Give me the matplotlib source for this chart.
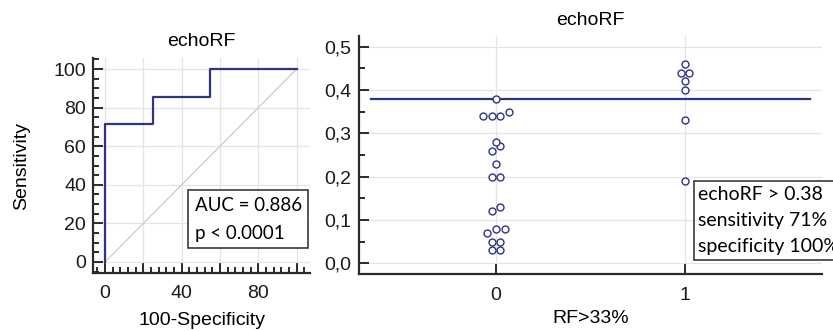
"""
echoRF: ROC curve (left) and dot plot by RF>33% group with cut-off (right).
"""

import numpy as np
import matplotlib.pyplot as plt
from matplotlib.ticker import MultipleLocator, FuncFormatter

# ROC curve, in %
fpr = [0, 0, 25, 25, 55, 55, 100]
tpr = [0, 71.4, 71.4, 85.7, 85.7, 100, 100]
auc_text = 'AUC = 0.886\np < 0.0001'

# echoRF values per group (RF>33% = 0 / 1)
echo_neg = [0.03, 0.03, 0.05, 0.05, 0.07, 0.08, 0.08, 0.12, 0.13, 0.20,
            0.20, 0.23, 0.26, 0.27, 0.28, 0.34, 0.34, 0.34, 0.35, 0.38]
echo_pos = [0.19, 0.33, 0.40, 0.42, 0.44, 0.44, 0.46]
group_ticks = [0, 1]
cutoff = 0.38
cut_text = 'echoRF > 0.38\nsensitivity 71%\nspecificity 100%'

NAVY = '#2f3388'
DARK = '#2a2a2a'
GRID = '#e4e4e4'

plt.rcParams['font.family'] = ['Liberation Sans', 'DejaVu Sans']
plt.rcParams['font.size'] = 14


def swarm(vals, row_gap=0.015, step=0.046):
    # values closer than row_gap share a row; each row is centred on the group
    vals = sorted(vals)
    rows, cur = [], [vals[0]]
    for v in vals[1:]:
        if v - cur[0] < row_gap:
            cur.append(v)
        else:
            rows.append(cur)
            cur = [v]
    rows.append(cur)
    xs, ys = [], []
    for r in rows:
        n = len(r)
        for i, v in enumerate(r):
            xs.append((i - (n - 1) / 2) * step)
            ys.append(v)
    return np.array(xs), np.array(ys)


def style_axes(ax):
    for s in ('top', 'right'):
        ax.spines[s].set_visible(False)
    for s in ('left', 'bottom'):
        ax.spines[s].set_linewidth(1.6)
        ax.spines[s].set_color(DARK)
    ax.tick_params(which='both', direction='in', color=DARK, width=1.4,
                   labelcolor='#1a1a1a', labelsize=14)
    ax.tick_params(which='major', length=7.5)
    ax.tick_params(which='minor', length=4)
    ax.grid(True, which='major', color=GRID, lw=0.9)
    ax.set_axisbelow(True)


fig = plt.figure(figsize=(8.33, 3.31), dpi=100)

# -----------------------------------------------------------------------
# ROC curve
# -----------------------------------------------------------------------
ax1 = fig.add_axes([93 / 833, 58 / 331, 217 / 833, 215 / 331])
style_axes(ax1)
ax1.plot([0, 100], [0, 100], color='#cbc3c6', lw=0.8)
ax1.plot(fpr, tpr, color=NAVY, lw=1.6)
ax1.set_xlim(-6.3, 107)
ax1.set_ylim(-5.7, 105.7)
ax1.xaxis.set_major_locator(MultipleLocator(20))
ax1.xaxis.set_minor_locator(MultipleLocator(4))
ax1.yaxis.set_major_locator(MultipleLocator(20))
ax1.yaxis.set_minor_locator(MultipleLocator(5))
ax1.xaxis.set_major_formatter(FuncFormatter(
    lambda v, p: f'{v:.0f}' if round(v) % 40 == 0 else ''))
ax1.tick_params(axis='x', pad=9)
ax1.tick_params(axis='y', pad=5)
ax1.set_xlabel('100-Specificity', labelpad=7)
ax1.set_ylabel('Sensitivity', labelpad=17)
ax1.set_title('echoRF', fontsize=14, pad=9)
ax1.text(0.468, 0.355, auc_text, transform=ax1.transAxes, ha='left', va='top',
         family='Lato', fontsize=13.5, linespacing=1.8,
         bbox=dict(boxstyle='square,pad=0.35', fc='white', ec=DARK, lw=1.1))

# -----------------------------------------------------------------------
# Dot plot
# -----------------------------------------------------------------------
ax2 = fig.add_axes([359.4 / 833, 57 / 331, 462.6 / 833, 238 / 331])
style_axes(ax2)
for g, vals in zip(group_ticks, [echo_neg, echo_pos]):
    dx, ys = swarm(vals)
    ax2.plot(g + dx, ys, 'o', ms=5, mfc='white', mec=NAVY, mew=1.0,
             linestyle='none', zorder=3)
ax2.plot([-0.66, 1.66], [cutoff, cutoff], color=NAVY, lw=1.6, zorder=2)
ax2.set_xlim(-0.723, 1.725)
ax2.set_ylim(-0.025, 0.525)
ax2.set_xticks(group_ticks)
ax2.yaxis.set_major_locator(MultipleLocator(0.1))
ax2.yaxis.set_minor_locator(MultipleLocator(0.05))
ax2.yaxis.set_major_formatter(FuncFormatter(
    lambda v, p: f'{v:.1f}'.replace('.', ',')))
ax2.tick_params(axis='x', pad=9)
ax2.tick_params(axis='y', pad=6)
ax2.set_xlabel('RF>33%', labelpad=5)
ax2.set_title('echoRF', fontsize=14, pad=8)
ax2.text(0.733, 0.37, cut_text, transform=ax2.transAxes, ha='left', va='top',
         family='Lato', fontsize=14, linespacing=1.65,
         bbox=dict(boxstyle='square,pad=0.25', fc='white', ec=DARK, lw=1.1))

fig.savefig('out.png', dpi=100)
